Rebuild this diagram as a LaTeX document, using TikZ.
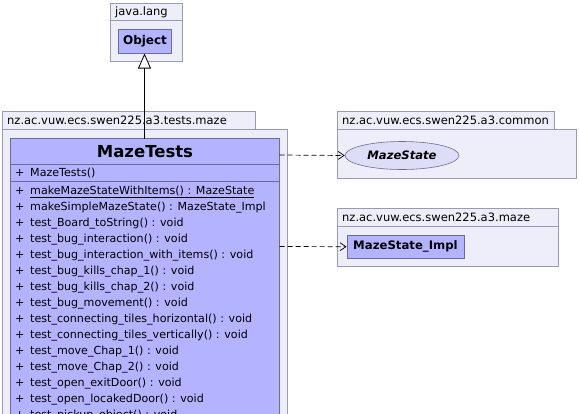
\documentclass[tikz,border=0pt]{standalone}
\usepackage{fontspec}
\setmainfont{DejaVu Sans}
\usetikzlibrary{arrows.meta,shapes.geometric}
\definecolor{pkgfill}{HTML}{EEEEFA}
\definecolor{pkgline}{HTML}{9A9AB2}
\definecolor{clsfill}{HTML}{B3B3FF}
\definecolor{clsline}{HTML}{6C6C9A}
\definecolor{ifcfill}{HTML}{DDDDF8}
\newcommand{\mrow}[1]{\makebox[15pt][l]{+}#1}
\tikzset{
  x=1pt,y=-1pt,
  pkg/.style={draw=pkgline,fill=pkgfill,line width=0.8pt},
  cls/.style={draw=clsline,fill=clsfill,line width=0.8pt},
  pkglabel/.style={anchor=west,inner sep=0pt,font=\fontsize{11.5}{13}\selectfont},
  member/.style={anchor=west,inner sep=0pt,font=\fontsize{11.1}{13}\selectfont},
  clsname/.style={inner sep=0pt,font=\bfseries\fontsize{12}{14}\selectfont},
  dep/.style={draw,dashed,dash pattern=on 5pt off 3pt,line width=0.7pt,-{Straight Barb[length=6pt,width=8pt]}},
  gen/.style={draw,line width=0.8pt,-{Triangle[open,length=15pt,width=13pt,fill=white]}}
}
\begin{document}
\begin{tikzpicture}
\useasboundingbox (0,0) rectangle (579,413);
\clip (0,0) rectangle (579,413);
\fill[white] (0,0) rectangle (579,413);
% java.lang
\draw[pkg] (110.5,3) rectangle (182.5,20.5);
\draw[pkg] (110.5,20.5) rectangle (182.5,61.5);
\node[pkglabel] (jl) at (115,12) {java.lang};
\draw[cls] (118.5,29.5) rectangle (171.5,53.5);
\node[clsname] (obj) at (145,41.5) {Object};
\coordinate (objb) at (144.5,53.5);
% tests package
\draw[pkg] (2.5,111.5) rectangle (255.5,129);
\draw[pkg] (2.5,129) rectangle (287.5,430);
\node[pkglabel] (tl) at (7,120.5) {nz.ac.vuw.ecs.swen225.a3.tests.maze};
\draw[cls] (10.5,138.5) rectangle (279.5,430);
\draw[clsline,line width=0.8pt] (10.5,164.5) -- (279.5,164.5);
\draw[clsline,line width=0.8pt] (10.5,181.5) -- (279.5,181.5);
\node[clsname,font=\bfseries\fontsize{16.5}{19}\selectfont] (mt) at (145,151.5) {MazeTests};
\coordinate (mttop) at (144.5,138.5);
\coordinate (mtr1) at (279.5,155);
\coordinate (mtr2) at (279.5,246.5);
\node[member] (m0) at (15,173) {\mrow{MazeTests()}};
\node[member] (m1) at (15,192) {\mrow{\underline{makeMazeStateWithItems() : MazeState}}};
\node[member] (m2) at (15,208) {\mrow{makeSimpleMazeState() : MazeState\_Impl}};
\node[member] (m3) at (15,224) {\mrow{test\_Board\_toString() : void}};
\node[member] (m4) at (15,240) {\mrow{test\_bug\_interaction() : void}};
\node[member] (m5) at (15,256) {\mrow{test\_bug\_interaction\_with\_items() : void}};
\node[member] (m6) at (15,272) {\mrow{test\_bug\_kills\_chap\_1() : void}};
\node[member] (m7) at (15,288) {\mrow{test\_bug\_kills\_chap\_2() : void}};
\node[member] (m8) at (15,304) {\mrow{test\_bug\_movement() : void}};
\node[member] (m9) at (15,320) {\mrow{test\_connecting\_tiles\_horizontal() : void}};
\node[member] (m10) at (15,336) {\mrow{test\_connecting\_tiles\_vertically() : void}};
\node[member] (m11) at (15,352) {\mrow{test\_move\_Chap\_1() : void}};
\node[member] (m12) at (15,368) {\mrow{test\_move\_Chap\_2() : void}};
\node[member] (m13) at (15,384) {\mrow{test\_open\_exitDoor() : void}};
\node[member] (m14) at (15,400) {\mrow{test\_open\_locakedDoor() : void}};
\node[member] (m15) at (15,416) {\mrow{test\_pickup\_object() : void}};
% common package
\draw[pkg] (337.5,111.5) rectangle (554.5,129.5);
\draw[pkg] (337.5,129.5) rectangle (576.5,178.5);
\node[pkglabel] (cl) at (342,120.5) {nz.ac.vuw.ecs.swen225.a3.common};
\node[ellipse,draw=clsline,fill=ifcfill,line width=0.6pt,minimum width=114pt,minimum height=28pt,inner sep=0pt,font=\bfseries\itshape\fontsize{11.6}{13}\selectfont] (ms) at (402,155.5) {MazeState};
% maze package
\draw[pkg] (337.5,208.5) rectangle (558.5,226);
\draw[pkg] (337.5,226) rectangle (558.5,266.5);
\node[pkglabel] (ml) at (342,217.5) {nz.ac.vuw.ecs.swen225.a3.maze};
\node[cls,minimum width=117pt,minimum height=23.5pt,inner sep=0pt,font=\bfseries\fontsize{11.7}{13}\selectfont] (msi) at (405.5,246.7) {MazeState\_Impl};
% connectors
\draw[gen] (mttop) -- (objb);
\draw[dep] (mtr1) -- (ms.west);
\draw[dep] (mtr2) -- (msi.west);
\end{tikzpicture}
\end{document}
